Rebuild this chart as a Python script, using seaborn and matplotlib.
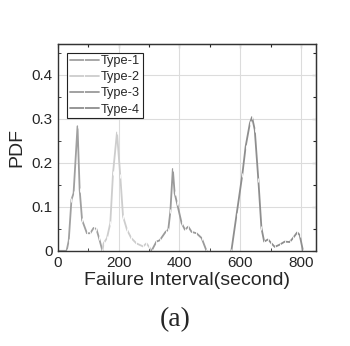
import pandas as pd
import numpy as np
import matplotlib.pyplot as plt
import seaborn as sns
from matplotlib.ticker import MultipleLocator

## values
t1_x = [0, 28, 35, 44, 51, 64, 71, 79, 95, 106, 117, 126, 135, 146]
t1_y = [0, 0, 0.023, 0.116, 0.131, 0.283, 0.139, 0.07, 0.04, 0.04, 0.052, 0.05, 0.029, 0]
t2_x = [146, 150, 161, 172, 181, 194, 205, 214, 227, 241, 258, 280, 291, 299, 308]
t2_y = [0, 0.017, 0.029, 0.063, 0.177, 0.269, 0.169, 0.078, 0.048, 0.029, 0.017, 0.01, 0.017, 0.01, 0]
t3_x = [308, 324, 335, 354, 363, 370, 378, 384, 392, 407, 418, 429, 440, 456, 473, 489]
t3_y = [0, 0.021, 0.024, 0.043, 0.048, 0.09, 0.186, 0.131, 0.108, 0.063, 0.048, 0.055, 0.043, 0.04, 0.029, 0]
t4_x = [571, 588, 607, 618, 632, 639, 648, 660, 670, 679, 692, 703, 714, 730, 747, 763, 774, 788, 796, 807]
t4_y = [0, 0.082, 0.173, 0.237, 0.29, 0.304, 0.275, 0.16, 0.052, 0.021, 0.026, 0.017, 0.009, 0.014, 0.021, 0.02, 0.029, 0.042, 0.036, 0]
types = ["Type-1", "Type-2", "Type-3", "Type-4"]
colors = ["#a0a0a0", "#cdcdcd", "#9a9a9a", "#8e8e8e"]

frames = []
for name, xs, ys in zip(types, [t1_x, t2_x, t3_x, t4_x], [t1_y, t2_y, t3_y, t4_y]):
    frames.append(pd.DataFrame({"x": xs, "y": ys, "type": name}))
df = pd.concat(frames, ignore_index=True)

sns.set_style("white")
plt.rcParams['font.family'] = ['Liberation Sans', 'DejaVu Sans']

fig = plt.figure(figsize=(3.5, 3.46), dpi=100)
ax = fig.add_axes([0.166, 0.275, 0.737, 0.598])
ax.grid(True, color="#dcdcdc", linewidth=0.8)
ax.set_axisbelow(True)

sns.lineplot(data=df, x="x", y="y", hue="type", palette=colors, linewidth=1.3,
             marker="|", markersize=3, markeredgewidth=0.6, sort=False, ax=ax)

ax.set_xlim(0, 850)
ax.set_ylim(0, 0.47)
ax.xaxis.set_major_locator(MultipleLocator(200))
ax.xaxis.set_minor_locator(MultipleLocator(100))
ax.yaxis.set_major_locator(MultipleLocator(0.1))
ax.yaxis.set_minor_locator(MultipleLocator(0.05))
ax.set_yticks([0, 0.1, 0.2, 0.3, 0.4])
ax.set_yticklabels(["0", "0.1", "0.2", "0.3", "0.4"])
ax.tick_params(which="major", direction="out", length=3, width=0.8, labelsize=11, pad=1)
ax.tick_params(which="minor", direction="in", length=2, width=0.6, left=True, bottom=True)
for s in ax.spines.values():
    s.set_color("#333333")
    s.set_linewidth(1.0)

## mirror ticks on top and right, pointing in
top = ax.secondary_xaxis("top")
top.xaxis.set_major_locator(MultipleLocator(200))
top.xaxis.set_minor_locator(MultipleLocator(100))
top.tick_params(which="both", direction="in", labeltop=False, length=3, width=0.8)
top.tick_params(which="minor", length=2)
right = ax.secondary_yaxis("right")
right.yaxis.set_major_locator(MultipleLocator(0.1))
right.yaxis.set_minor_locator(MultipleLocator(0.05))
right.tick_params(which="both", direction="in", labelright=False, length=3, width=0.8)
right.tick_params(which="minor", length=2)

ax.set_xlabel("Failure Interval(second)", fontsize=14, labelpad=1)
ax.set_ylabel("PDF", fontsize=14, labelpad=4)

leg = ax.legend(loc="upper left", bbox_to_anchor=(0.025, 0.97), fontsize=9.2, frameon=True,
                fancybox=False, edgecolor="#222222", handlelength=2.3, handletextpad=0.15,
                borderpad=0.2, labelspacing=0.32, borderaxespad=0.2)
leg.get_frame().set_linewidth(0.8)
leg.get_frame().set_alpha(1)

fig.text(0.5, 0.075, "(a)", fontsize=20, family=["Liberation Serif", "DejaVu Serif"],
         ha="center", va="center")

plt.savefig("out.png", dpi=100)
